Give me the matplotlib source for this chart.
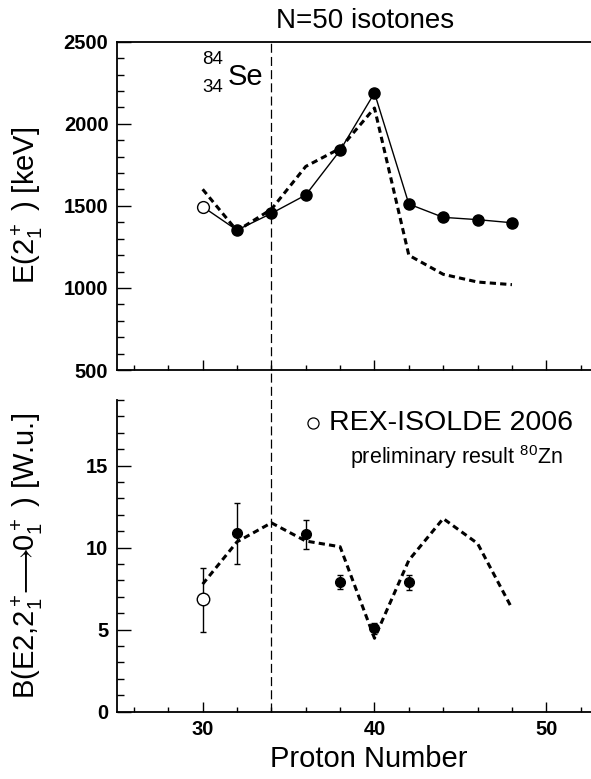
import numpy as np
import matplotlib
matplotlib.use('Agg')
import matplotlib.pyplot as plt
import matplotlib.transforms as mtransforms
from matplotlib.lines import Line2D
from matplotlib.ticker import MultipleLocator

plt.rcParams['font.family'] = ['Liberation Sans', 'DejaVu Sans']
plt.rcParams['mathtext.fontset'] = 'custom'
plt.rcParams['mathtext.rm'] = 'Liberation Sans'
plt.rcParams['mathtext.it'] = 'Liberation Sans:italic'
plt.rcParams['mathtext.bf'] = 'Liberation Sans:bold'
plt.rcParams['mathtext.fallback'] = 'stixsans'
plt.rcParams['lines.scale_dashes'] = False

# E(2+) energies, N=50 isotones
Z_theory = [30, 32, 34, 36, 38, 40, 42, 44, 46, 48]
E_theory = [1601, 1348, 1479, 1740, 1850, 2096, 1199, 1083, 1036, 1020]
Z_exp = [32, 34, 36, 38, 40, 42, 44, 46, 48]
E_exp = [1352, 1454, 1566, 1838, 2188, 1511, 1430, 1416, 1397]
Z_rex = 30
E_rex = 1495

# B(E2) values
B_theory = [7.77, 10.35, 11.51, 10.4, 10.05, 4.47, 9.23, 11.77, 10.25, 6.29]
Z_b = [32, 36, 38, 40, 42]
B_exp = [10.86, 10.80, 7.90, 5.07, 7.88]
B_lo = [8.99, 9.90, 7.47, 4.73, 7.41]
B_hi = [12.73, 11.71, 8.32, 5.42, 8.32]
B_rex = 6.84
B_rex_lo = 4.87
B_rex_hi = 8.77

Z_se = 34

fig = plt.figure(figsize=(5.91, 7.79), dpi=100)
ax1 = fig.add_axes([0.1975, 0.525, 0.8025, 0.4215])
ax2 = fig.add_axes([0.1975, 0.0866, 0.8025, 0.3999])

tick_font = dict(fontsize=14.5, fontweight='bold')
for ax in (ax1, ax2):
    ax.set_xlim(25, 52.6)
    ax.spines['right'].set_visible(False)
    for s in ax.spines.values():
        s.set_linewidth(1.3)
    ax.xaxis.set_minor_locator(MultipleLocator(2))
    ax.tick_params(which='both', direction='in', width=1.0, top=False, right=False)
    ax.tick_params(axis='y', which='major', length=10, pad=6)
    ax.tick_params(axis='y', which='minor', length=5)
    ax.tick_params(axis='x', which='major', length=7, pad=6)
    ax.tick_params(axis='x', which='minor', length=3.5)
ax2.spines['top'].set_visible(False)

# top panel
ax1.set_ylim(500, 2500)
e_ticks = np.arange(500, 2501, 500)
ax1.set_yticks(e_ticks, labels=[str(t) for t in e_ticks], **tick_font)
ax1.yaxis.set_minor_locator(MultipleLocator(100))
ax1.set_xticks([30, 40, 50])
ax1.tick_params(axis='x', labelbottom=False)

ax1.plot(Z_theory, E_theory, color='black', lw=2.2, dashes=(4.5, 3), zorder=2)
ax1.plot([Z_rex] + Z_exp, [E_rex] + E_exp, color='black', lw=1, zorder=3)
ax1.plot(Z_exp, E_exp, 'o', color='black', ms=8, zorder=4)
ax1.plot(Z_rex, E_rex, 'o', mfc='white', mec='black', mew=1, ms=8.5, zorder=4)

ax1.text(31.47, 2237, 'Se', fontsize=21, ha='left', va='baseline')
ax1.text(31.2, 2365, '84', fontsize=13.5, ha='right', va='baseline')
ax1.text(31.2, 2195, '34', fontsize=13.5, ha='right', va='baseline')

ax1.set_ylabel(r'E(2$_1^+$ ) [keV]', fontsize=21)
ax1.yaxis.set_label_coords(-0.152, 0.5)

# bottom panel
ax2.set_ylim(0, 19)
b_ticks = [0, 5, 10, 15]
ax2.set_yticks(b_ticks, labels=[str(t) for t in b_ticks], **tick_font)
ax2.yaxis.set_minor_locator(MultipleLocator(1))
x_ticks = [30, 40, 50]
ax2.set_xticks(x_ticks, labels=[str(t) for t in x_ticks], **tick_font)

ax2.plot(Z_theory, B_theory, color='black', lw=2.2, dashes=(4.5, 3), zorder=2)
ax2.errorbar(Z_b, B_exp,
             yerr=[np.array(B_exp) - np.array(B_lo), np.array(B_hi) - np.array(B_exp)],
             fmt='o', color='black', ms=7, elinewidth=1, capsize=2.2, capthick=1, zorder=4)
ax2.errorbar([Z_rex], [B_rex], yerr=[[B_rex - B_rex_lo], [B_rex_hi - B_rex]],
             fmt='o', mfc='white', mec='black', ecolor='black', mew=1, ms=9,
             elinewidth=1, capsize=2.2, capthick=1, zorder=4)

ax2.plot(36.4, 17.6, 'o', mfc='white', mec='black', mew=0.9, ms=8, clip_on=False)
ax2.text(37.35, 17.6, 'REX-ISOLDE 2006', fontsize=20.5, ha='left', va='center')
ax2.text(44.75, 15.5, r'preliminary result $^{80}$Zn', fontsize=15.5, ha='center', va='center')

ax2.set_ylabel(r'B(E2,2$_1^+\!\!\longrightarrow\!\!$0$_1^+$ ) [W.u.]', fontsize=21)
ax2.yaxis.set_label_coords(-0.152, 0.5)
ax2.set_xlabel('Proton Number', fontsize=21)
ax2.xaxis.set_label_coords(0.531, -0.106)

# dashed marker line at Z=34 through both panels
trans = mtransforms.blended_transform_factory(ax1.transData, fig.transFigure)
y_bot = ax2.get_position().y0
y_top = ax1.get_position().y1
fig.add_artist(Line2D([Z_se, Z_se], [y_bot, y_top], transform=trans,
                      color='black', lw=0.9, dashes=(6.5, 3)))

fig.text(0.617, 0.964, 'N=50 isotones', fontsize=20, ha='center', va='baseline')

fig.savefig('out.png', dpi=100)
